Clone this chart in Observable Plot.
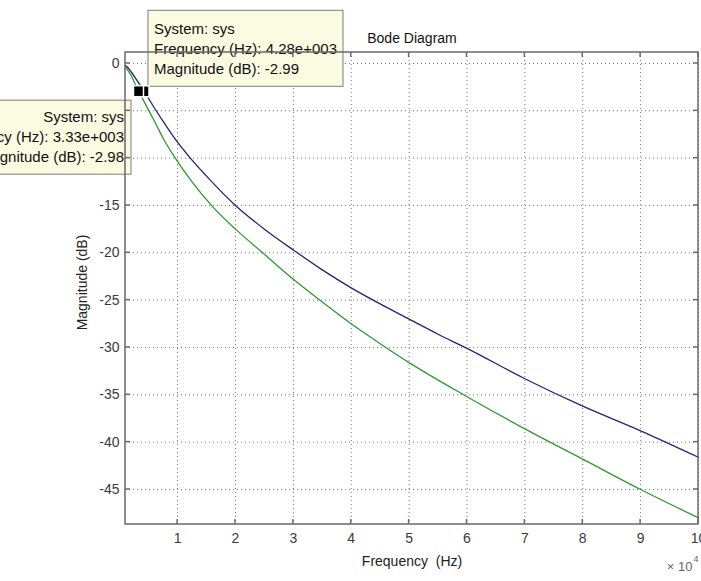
<!DOCTYPE html>
<html>
<head>
<meta charset="utf-8">
<script src="https://cdn.jsdelivr.net/npm/d3@7"></script>
<script src="https://cdn.jsdelivr.net/npm/@observablehq/plot@0.6"></script>
<style>
  body { margin: 0; background: #fff; }
  #chart svg { font-family: "Liberation Sans", Arial, sans-serif; }
</style>
</head>
<body>
<div id="chart"></div>
<script>
// ---- data (frequency in Hz, magnitude in dB) ----
const freqBlue = [1000, 1500, 2000, 3000, 4280, 5000, 6000, 7600, 9600, 12200, 15000, 20000, 25000, 30000, 35000, 40000, 45000, 50000, 55000, 60000, 70000, 80000, 90000, 100000];
const magBlue  = [-0.2, -0.5, -0.9, -1.8, -2.99, -3.7, -4.7, -6.2, -8.0, -10.0, -11.9, -15.0, -17.5, -19.7, -21.8, -23.7, -25.4, -27.0, -28.6, -30.1, -33.3, -36.2, -38.8, -41.6];

const freqGreen = [1000, 1500, 2000, 2500, 3330, 4100, 5000, 6000, 7600, 9600, 12500, 16000, 20000, 24700, 30000, 35000, 40000, 45000, 50000, 60000, 70000, 80000, 90000, 100000];
const magGreen  = [-0.35, -0.8, -1.3, -1.95, -2.98, -3.9, -4.95, -6.1, -8.0, -10.0, -12.5, -15.1, -17.5, -20.0, -22.8, -25.2, -27.5, -29.6, -31.6, -35.2, -38.6, -41.8, -45.0, -48.0];

const xTicks = [10000, 20000, 30000, 40000, 50000, 60000, 70000, 80000, 90000, 100000];
const yTicks = [0, -5, -10, -15, -20, -25, -30, -35, -40, -45];
const xDomain = [1000, 100000];
const yDomain = [-48.7, 1.16];

const tipSystem = ["sys", "sys"];
const tipFreq = [4280, 3330];
const tipMag = [-2.99, -2.98];
const tipSide = ["right", "left"];

const titleText = "Bode Diagram";
const xLabel = "Frequency  (Hz)";
const yLabel = "Magnitude (dB)";
const xExponent = "4";

// ---- layout ----
const W = 701, H = 581;
const mL = 125, mR = 3, mT = 52, mB = 57;
const blueColor = "#23237c", greenColor = "#2f9a2f";
const gridColor = "#555";
const axisColor = "#6a6a6a";

const blue = freqBlue.map((f, i) => ({f, m: magBlue[i]}));
const green = freqGreen.map((f, i) => ({f, m: magGreen[i]}));

const matlabExp = v => {
  const [mant, ex] = v.toExponential(2).split("e");
  const sign = ex[0] === "-" ? "-" : "+";
  const digits = ex.replace(/[+-]/, "").padStart(3, "0");
  return mant + "e" + sign + digits;
};

const plot = Plot.plot({
  width: W, height: H,
  marginLeft: mL, marginRight: mR, marginTop: mT, marginBottom: mB,
  style: {fontFamily: "'Liberation Sans', Arial, sans-serif", fontSize: "14px", color: "#3a3a3a", background: "white"},
  x: {type: "linear", domain: xDomain, ticks: xTicks, tickFormat: d => String(d / 1e4), tickSize: 0, tickPadding: 9, label: null},
  y: {type: "linear", domain: yDomain, ticks: yTicks, tickFormat: d => String(d), tickSize: 0, tickPadding: 6, label: null},
  marks: [
    Plot.ruleX(xTicks, {stroke: gridColor, strokeDasharray: "1,3", strokeWidth: 1, strokeOpacity: 0.8}),
    Plot.ruleY(yTicks, {stroke: gridColor, strokeDasharray: "1,3", strokeWidth: 1, strokeOpacity: 0.8}),
    Plot.line(green, {x: "f", y: "m", stroke: greenColor, strokeWidth: 1.3, curve: "monotone-x"}),
    Plot.line(blue, {x: "f", y: "m", stroke: blueColor, strokeWidth: 1.3, curve: "monotone-x"}),
    Plot.text([titleText], {frameAnchor: "top", dy: -19, textAnchor: "middle", text: d => d, fill: "#111", fontSize: 14}),
    Plot.text([xLabel], {frameAnchor: "bottom", dy: 41, textAnchor: "middle", text: d => d, fill: "#222", fontSize: 14}),
    Plot.text([yLabel], {frameAnchor: "left", dx: -43, dy: -6, rotate: -90, textAnchor: "middle", text: d => d, fill: "#222", fontSize: 14}),
    Plot.text(["\u00d7 10"], {frameAnchor: "bottom-right", dx: -6, dy: 46, textAnchor: "end", text: d => d, fill: "#666", fontSize: 13}),
    Plot.text([xExponent], {frameAnchor: "bottom-right", dx: -5, dy: 37, textAnchor: "start", text: d => d, fill: "#666", fontSize: 9})
  ]
});

document.getElementById("chart").appendChild(plot);

// ---- data tips and frame drawn on top, positioned through Plot's scales ----
const sx = plot.scale("x"), sy = plot.scale("y");
const svg = d3.select(plot);
const [x0, x1] = sx.range;
const [y0, y1] = sy.range; // y0 bottom, y1 top
const font = "'Liberation Sans', Arial, sans-serif";

tipFreq.forEach((f, i) => {
  const px = sx.apply(f), py = sy.apply(tipMag[i]);
  const lines = ["System: " + tipSystem[i], "Frequency (Hz): " + matlabExp(f), "Magnitude (dB): " + tipMag[i].toFixed(2)];
  const g = svg.append("g").attr("font-family", font).attr("font-size", 15).attr("fill", "#111");
  if (tipSide[i] === "right") {
    g.append("rect").attr("x", px + 4).attr("y", py - 81).attr("width", 195).attr("height", 76)
      .attr("fill", "#fbfbe2").attr("stroke", "#7a7a7a").attr("stroke-width", 1);
    lines.forEach((t, k) => g.append("text").attr("x", px + 10).attr("y", py - 57 + k * 20)
      .attr("text-anchor", "start").text(t));
  } else {
    g.append("rect").attr("x", px - 207.5).attr("y", py + 9).attr("width", 200).attr("height", 74)
      .attr("fill", "#fbfbe2").attr("stroke", "#7a7a7a").attr("stroke-width", 1);
    lines.forEach((t, k) => g.append("text").attr("x", px - 14.5).attr("y", py + 31 + k * 20)
      .attr("text-anchor", "end").text(t));
  }
});

// frame (box) and inward ticks on all four sides
const fr = svg.append("g").attr("stroke", axisColor).attr("fill", "none");
fr.append("rect").attr("x", x0).attr("y", y1).attr("width", x1 - x0).attr("height", y0 - y1).attr("stroke-width", 1.5);
xTicks.forEach(t => {
  const x = sx.apply(t);
  fr.append("line").attr("x1", x).attr("x2", x).attr("y1", y0).attr("y2", y0 - 5).attr("stroke-width", 1.5);
  fr.append("line").attr("x1", x).attr("x2", x).attr("y1", y1).attr("y2", y1 + 5).attr("stroke-width", 1.5);
});
yTicks.forEach(t => {
  const y = sy.apply(t);
  fr.append("line").attr("x1", x0).attr("x2", x0 + 5).attr("y1", y).attr("y2", y).attr("stroke-width", 1.5);
  fr.append("line").attr("x1", x1).attr("x2", x1 - 5).attr("y1", y).attr("y2", y).attr("stroke-width", 1.5);
});

// data tip markers (blue first, green on top with white edge)
tipFreq.forEach((f, i) => {
  const px = sx.apply(f), py = sy.apply(tipMag[i]);
  svg.append("rect").attr("x", px - 5).attr("y", py - 5.5).attr("width", 10).attr("height", 11)
    .attr("fill", "#000").attr("stroke", "#fff").attr("stroke-width", 1.5);
});
</script>
</body>
</html>
